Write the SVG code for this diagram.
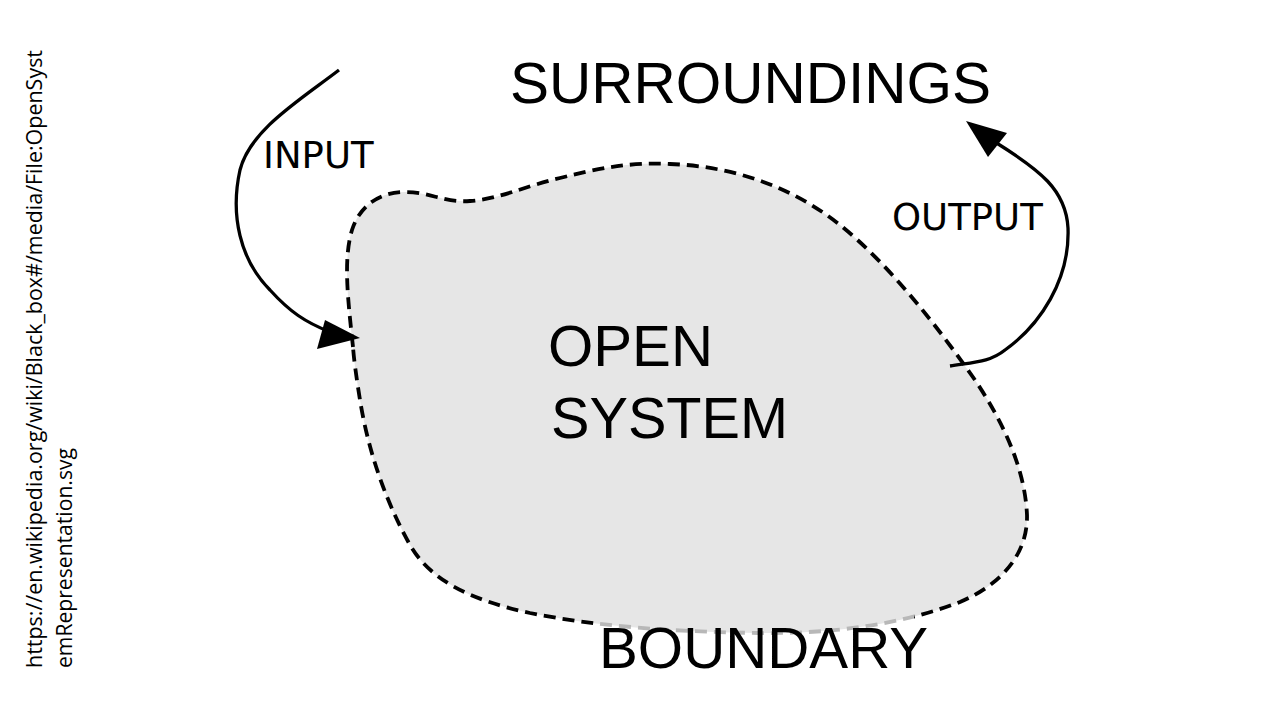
<svg xmlns="http://www.w3.org/2000/svg" width="1280" height="720" viewBox="0 0 1280 720">
<style>
.big{font-family:"Liberation Sans",Arial,sans-serif;font-size:58px;fill:#000}
.lbl{font-family:"DejaVu Sans",sans-serif;font-size:37px;fill:#000}
.src{font-family:"Open Sans","Noto Sans",sans-serif;font-size:22px;fill:#000}
.arrow{fill:none;stroke:#000;stroke-width:3.3;stroke-linecap:butt}
.head{fill:#000;stroke:none}
.bnd{fill:none;stroke-width:3.8;stroke-dasharray:12 7}
</style>
<defs>
<path id="blob" d="M 353 347 C 348 300, 343 260, 352 230 C 360 205, 380 192, 405 192 C 430 192, 445 203, 470 201 C 500 199, 525 186, 560 178 C 600 168, 630 162, 670 164 C 730 166, 790 185, 840 225 C 890 265, 940 330, 975 380 C 1005 425, 1025 470, 1027 515 C 1028 555, 1000 585, 960 602 C 900 625, 830 634, 760 633 C 680 632, 600 627, 530 613 C 470 600, 430 580, 410 545 C 385 500, 368 450, 360 400 C 356 375, 354 360, 353 347 Z"/>
<clipPath id="boundclip"><rect x="598" y="612" width="316" height="40"/></clipPath>
<clipPath id="outclip"><path d="M0 0H1280V720H0Z M598 612V652H914V612Z" clip-rule="evenodd"/></clipPath>
</defs>
<rect width="1280" height="720" fill="#fff"/>
<g id="system">
<use href="#blob" fill="#e6e6e6"/>
<use href="#blob" class="bnd" stroke="#000" clip-path="url(#outclip)"/>
<use href="#blob" class="bnd" stroke="#b8b8b8" clip-path="url(#boundclip)"/>
<text class="big" x="548" y="366" textLength="165" lengthAdjust="spacingAndGlyphs">OPEN</text>
<text class="big" x="551" y="438" textLength="237" lengthAdjust="spacingAndGlyphs">SYSTEM</text>
</g>
<g id="surroundings">
<text class="big" x="510" y="103" textLength="481" lengthAdjust="spacingAndGlyphs">SURROUNDINGS</text>
</g>
<g id="boundary">
<text class="big" x="599" y="668" textLength="329" lengthAdjust="spacingAndGlyphs">BOUNDARY</text>
</g>
<g id="connectors">
<path class="arrow" d="M 339 70 C 300 100, 250 130, 240 170 C 230 215, 240 260, 270 290 C 290 312, 305 322, 330 332"/>
<polygon class="head" points="360,338 317,349 325,320"/>
<path class="arrow" d="M 950 366 C 975 362, 990 362, 1005 350 C 1040 325, 1070 280, 1068 228 C 1066 190, 1040 170, 995 142"/>
<polygon class="head" points="966,121 1007,133 988,157"/>
</g>
<g id="labels">
<text class="lbl" x="263" y="168">INPUT</text>
<text class="lbl" x="892" y="230">OUTPUT</text>
</g>
<g id="source">
<text class="src" transform="translate(42,668) rotate(-90)" textLength="618" lengthAdjust="spacingAndGlyphs">https://en.wikipedia.org/wiki/Black_box#/media/File:OpenSyst</text>
<text class="src" transform="translate(72,668) rotate(-90)" textLength="220" lengthAdjust="spacingAndGlyphs">emRepresentation.svg</text>
</g>
</svg>
